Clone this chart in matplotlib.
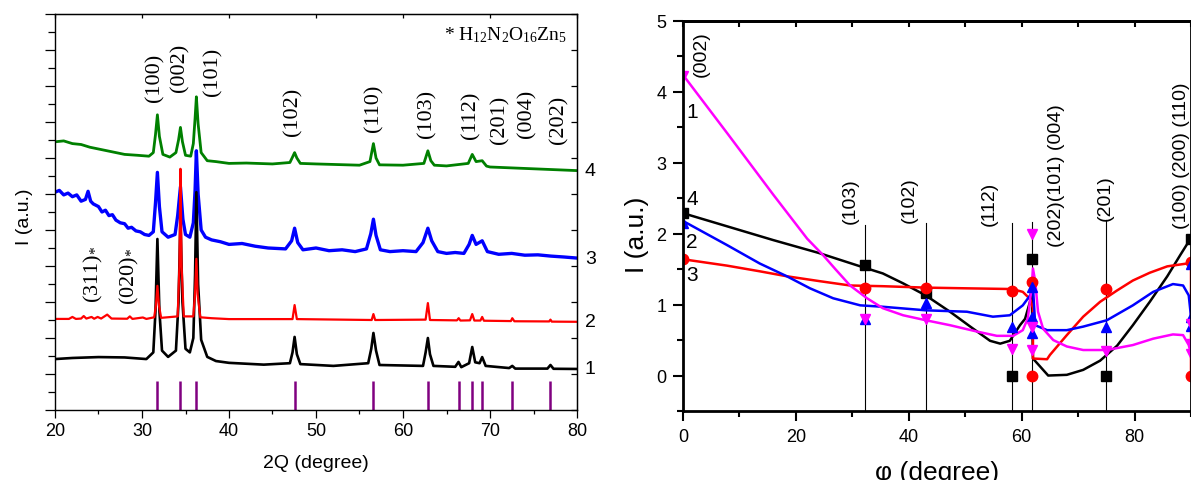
import matplotlib
matplotlib.use('Agg')
import matplotlib.pyplot as plt
from matplotlib.ticker import MultipleLocator

plt.rcParams['font.family'] = ['Liberation Sans', 'DejaVu Sans']
plt.rcParams['mathtext.fontset'] = 'custom'
plt.rcParams['mathtext.rm'] = 'Liberation Serif'
plt.rcParams['mathtext.it'] = 'Liberation Serif:italic'

# ---- XRD patterns (2theta, intensity offset per sample) ----
tt_1 = [20.0, 22.0, 25.0, 28.0, 30.5, 31.3, 31.55, 31.77, 32.0, 32.3, 33.0, 33.9, 34.2, 34.42, 34.65,
        35.0, 35.5, 35.9, 36.1, 36.25, 36.45, 36.8, 37.5, 38.5, 40.0, 44.0, 47.0, 47.3, 47.54, 47.8,
        48.2, 52.0, 56.0, 56.35, 56.6, 56.9, 57.3, 62.3, 62.6, 62.86, 63.1, 63.5, 66.0, 66.38, 66.7,
        67.6, 67.96, 68.3, 68.8, 69.1, 69.5, 72.2, 72.56, 72.9, 76.6, 76.95, 77.3, 80.0]
int_1 = [2.83, 2.89, 2.94, 2.92, 2.83, 3.2, 5.5, 9.5, 5.5, 3.3, 2.95, 3.3, 6.0, 10.6, 6.0,
         3.4, 3.2, 4.0, 7.5, 12.1, 7.0, 3.9, 2.95, 2.72, 2.62, 2.52, 2.6, 3.2, 4.06, 3.1,
         2.55, 2.45, 2.6, 3.4, 4.28, 3.3, 2.5, 2.45, 3.2, 4.0, 3.1, 2.45, 2.4, 2.67, 2.38,
         2.6, 3.5, 2.65, 2.6, 2.94, 2.45, 2.33, 2.45, 2.3, 2.3, 2.5, 2.29, 2.28]

tt_2 = [20.0, 21.6, 22.0, 22.4, 23.0, 23.3, 23.6, 24.2, 24.5, 24.9, 25.3, 26.0, 26.5, 28.3, 28.6,
        28.9, 30.1, 30.5, 31.4, 31.6, 31.77, 31.95, 32.2, 34.1, 34.3, 34.42, 34.55, 34.8, 35.9, 36.1,
        36.25, 36.4, 36.7, 38.0, 40.0, 47.3, 47.54, 47.8, 56.4, 56.6, 56.8, 62.6, 62.86, 63.1, 66.2,
        66.4, 66.6, 67.7, 67.96, 68.2, 68.9, 69.1, 69.3, 72.4, 72.56, 72.8, 76.8, 76.95, 77.1, 80.0]
int_2 = [5.06, 5.06, 5.17, 5.06, 5.08, 5.22, 5.08, 5.17, 5.07, 5.17, 5.08, 5.3, 5.08, 5.07, 5.2,
         5.06, 5.14, 5.06, 5.15, 5.8, 6.9, 5.8, 5.12, 5.2, 8.0, 13.4, 8.0, 5.2, 5.2, 6.5,
         8.4, 6.4, 5.15, 5.1, 5.05, 5.05, 5.83, 5.05, 5.0, 5.33, 5.0, 5.02, 5.94, 5.0, 4.98,
         5.1, 4.97, 4.98, 5.33, 4.97, 4.97, 5.17, 4.96, 4.94, 5.1, 4.93, 4.92, 5.02, 4.91, 4.9]

tt_3 = [20.0, 20.5, 21.0, 21.5, 22.0, 22.5, 23.0, 23.5, 23.8, 24.1, 24.4, 25.0, 25.4, 25.8, 26.2,
        26.6, 27.0, 27.5, 28.0, 28.4, 28.8, 29.3, 29.8, 30.3, 30.8, 31.3, 31.55, 31.77, 32.0, 32.3,
        33.0, 33.8, 34.1, 34.42, 34.7, 35.0, 35.5, 35.9, 36.1, 36.25, 36.45, 36.8, 37.3, 38.0, 39.0,
        40.0, 41.5, 43.0, 44.5, 46.5, 47.2, 47.54, 47.9, 48.5, 50.0, 51.5, 53.0, 54.5, 55.8, 56.3,
        56.6, 56.9, 57.4, 58.5, 60.0, 61.5, 62.3, 62.86, 63.3, 64.0, 65.0, 66.0, 67.0, 67.6, 67.96,
        68.4, 69.1, 69.7, 71.0, 72.5, 74.0, 75.5, 77.0, 78.5, 80.0]
int_3 = [12.1, 12.2, 11.95, 12.05, 11.85, 11.95, 11.6, 11.7, 12.15, 11.6, 11.45, 11.3, 11.0, 11.1, 10.8,
         10.85, 10.55, 10.4, 10.35, 10.1, 10.15, 9.95, 9.9, 9.75, 9.7, 9.9, 11.5, 13.2, 11.3, 9.9,
         9.6, 9.75, 10.8, 12.4, 10.6, 9.75, 9.6, 10.4, 12.2, 14.4, 12.0, 10.0, 9.6, 9.45, 9.35,
         9.2, 9.25, 9.1, 9.0, 8.95, 9.4, 10.1, 9.3, 8.9, 9.0, 8.85, 8.9, 8.8, 8.95, 9.8,
         10.6, 9.7, 8.9, 8.8, 8.85, 8.8, 9.3, 10.1, 9.4, 8.8, 8.7, 8.75, 8.7, 9.2, 9.7,
         9.2, 9.4, 8.8, 8.65, 8.7, 8.6, 8.62, 8.55, 8.5, 8.44]

tt_4 = [20.0, 21.0, 22.0, 23.0, 24.0, 25.0, 26.5, 28.0, 29.5, 30.8, 31.3, 31.55, 31.77, 32.0, 32.4,
        33.2, 33.9, 34.2, 34.42, 34.65, 35.0, 35.6, 35.9, 36.1, 36.25, 36.45, 36.8, 37.5, 38.5, 40.0,
        42.0, 45.0, 47.0, 47.3, 47.54, 47.8, 48.2, 50.0, 55.0, 56.2, 56.6, 56.9, 57.3, 60.0, 62.4,
        62.86, 63.2, 63.6, 65.0, 67.5, 67.96, 68.4, 69.1, 69.6, 70.0, 75.0, 80.0]
int_4 = [14.9, 14.95, 14.8, 14.75, 14.6, 14.5, 14.35, 14.2, 14.15, 14.1, 14.3, 15.3, 16.4, 15.2, 14.2,
         14.05, 14.3, 15.0, 15.7, 14.9, 14.15, 14.1, 14.8, 16.2, 17.4, 15.9, 14.3, 13.85, 13.8, 13.7,
         13.72, 13.67, 13.75, 14.05, 14.3, 14.0, 13.7, 13.67, 13.6, 13.8, 14.8, 14.0, 13.62, 13.6, 13.7,
         14.4, 13.85, 13.6, 13.56, 13.7, 14.2, 13.8, 13.85, 13.55, 13.5, 13.4, 13.3]

# reference ZnO reflections
ref_tt = [31.77, 34.42, 36.25, 47.54, 56.60, 62.86, 66.38, 67.96, 69.10, 72.56, 76.95]
ref_height = 1.6

hkl_labels = ['(100)', '(002)', '(101)', '(102)', '(110)', '(103)', '(112)', '(201)', '(004)', '(202)']
hkl_x = [31.5, 34.35, 38.1, 47.3, 56.6, 62.7, 67.8, 71.1, 74.2, 77.9]
hkl_y = [18.5, 19.05, 18.86, 16.6, 16.8, 16.5, 16.4, 16.2, 16.5, 16.2]

star_labels = ['(311)$_{*}$', '(020)$_{*}$']
star_x = [24.45, 28.6]
star_y = [7.6, 7.5]

# ---- texture curves (phi, relative intensity) ----
phi_1 = [0, 8, 16, 22, 24.8, 27, 29.6, 32.6, 35.4, 39.0, 43.0, 47.3, 52.1, 55.6, 58.5, 60.2, 61.1,
         61.8, 62.0, 62.4, 62.9, 63.8, 65.6, 68.0, 70.9, 75.1, 79.7, 83.3, 86.8, 88.6, 89.6, 90]
I_1 = [4.24, 3.4, 2.55, 1.93, 1.70, 1.5, 1.27, 1.09, 0.95, 0.85, 0.78, 0.71, 0.62, 0.56, 0.56, 0.64, 0.81,
       1.27, 1.51, 1.33, 0.90, 0.66, 0.50, 0.41, 0.36, 0.36, 0.43, 0.52, 0.58, 0.57, 0.43, 0.3]

phi_2 = [0, 7.8, 13.6, 18.4, 22.5, 26.6, 31.4, 35.4, 43.0, 50.3, 54.9, 57.9, 60.2, 61.5, 62.0,
         62.4, 64.5, 68.0, 70.9, 75.1, 79.7, 83.3, 86.8, 88.6, 89.6, 90]
I_2 = [2.18, 1.84, 1.58, 1.40, 1.23, 1.09, 0.99, 0.97, 0.92, 0.90, 0.83, 0.85, 0.99, 1.13, 1.25,
       0.71, 0.64, 0.64, 0.69, 0.78, 0.99, 1.18, 1.29, 1.27, 1.13, 0.83]

phi_3 = [0, 7.8, 13.6, 18.4, 24.3, 29.6, 35.4, 43.0, 50.3, 58.3, 60.2, 61.1, 61.6, 62.0, 62.0,
         64.5, 65.0, 68.0, 70.9, 73.9, 76.9, 79.7, 82.7, 85.8, 89.3, 90, 90]
I_3 = [1.64, 1.55, 1.47, 1.40, 1.33, 1.27, 1.26, 1.24, 1.23, 1.22, 1.18, 1.11, 1.06, 0.95, 0.24,
       0.23, 0.29, 0.57, 0.83, 1.04, 1.2, 1.34, 1.45, 1.54, 1.58, 1.6, 0.0]

phi_4 = [0, 8, 16, 24, 31.4, 35.4, 39.0, 43.0, 47.3, 50.9, 54.4, 56.2, 57.9, 59.7, 60.6, 61.8,
         62.0, 64.7, 68.0, 70.9, 73.9, 76.9, 79.7, 82.7, 85.8, 88.1, 89.6, 90]
I_4 = [2.29, 2.1, 1.91, 1.73, 1.54, 1.44, 1.30, 1.13, 0.90, 0.69, 0.49, 0.45, 0.49, 0.71, 0.80, 1.13,
       0.24, 0.0, 0.01, 0.08, 0.21, 0.42, 0.71, 1.04, 1.40, 1.70, 1.89, 1.93]

# measured points
pt_phi_1 = [0, 32.2, 43.0, 58.3, 61.9, 61.9, 61.9, 75.0, 90, 90, 90]
pt_I_1 = [4.22, 0.8, 0.80, 0.38, 2.0, 0.69, 0.36, 0.34, 0.72, 0.45, 0.3]
pt_phi_2 = [0, 32.2, 43.0, 58.3, 61.9, 61.9, 61.9, 75.0, 90, 90, 90]
pt_I_2 = [2.15, 0.8, 1.02, 0.68, 1.25, 0.83, 0.60, 0.69, 1.58, 0.83, 0.70]
pt_phi_3 = [0, 32.2, 43.0, 58.3, 61.9, 61.9, 75.0, 90, 90]
pt_I_3 = [1.64, 1.23, 1.24, 1.19, 1.32, 0.0, 1.22, 1.6, 0.0]
pt_phi_4 = [0, 32.2, 43.0, 58.3, 61.9, 75.0, 90]
pt_I_4 = [2.29, 1.56, 1.17, 0.0, 1.64, 0.0, 1.93]

plane_phi = [32.2, 43.0, 58.2, 61.9, 75.0, 90.0]
plane_top = [2.12, 2.15, 2.15, 2.17, 2.2, 2.12]
plane_labels = ['(103)', '(102)', '(112)', '(202)(101) (004)', '(201)', '(100) (200) (110)', '(002)']
plane_lx = [29.6, 40.0, 54.2, 66.1, 74.8, 88.4, 3.3]
plane_ly = [2.15, 2.17, 2.12, 1.82, 2.2, 2.08, 4.22]

fig = plt.figure(figsize=(11.91, 4.81), dpi=100)

# ---------------- left: XRD patterns ----------------
ax1 = fig.add_axes([55 / 1191, 70 / 481, 522 / 1191, 396 / 481])
ax1.plot(tt_4, int_4, color='#008000', lw=2.0)
ax1.plot(tt_3, int_3, color='#0000ff', lw=2.4)
ax1.plot(tt_1, int_1, color='black', lw=1.9)
ax1.plot(tt_2, int_2, color='#ff0000', lw=1.6)
ax1.vlines(ref_tt, 0, ref_height, color='#800080', lw=1.8)

for s, x, y in zip(hkl_labels, hkl_x, hkl_y):
    ax1.text(x, y, s, rotation=90, ha='center', va='center', fontsize=16, family='Liberation Serif')
for s, x, y in zip(star_labels, star_x, star_y):
    ax1.text(x, y, s, rotation=90, ha='center', va='center', fontsize=16, family='Liberation Serif')
ax1.text(78.8, 20.9, r'* H$_{12}$N$_2$O$_{16}$Zn$_5$', ha='right', va='center', fontsize=14,
         family='Liberation Serif')

for s, y in zip(['4', '3', '2', '1'], [13.3, 8.44, 4.9, 2.28]):
    ax1.text(80.9, y, s, ha='left', va='center', fontsize=14, clip_on=False)

ax1.set_xlim(20, 80)
ax1.set_ylim(0, 22)
ax1.xaxis.set_major_locator(MultipleLocator(10))
ax1.xaxis.set_minor_locator(MultipleLocator(5))
ax1.yaxis.set_major_locator(MultipleLocator(2))
ax1.yaxis.set_minor_locator(MultipleLocator(1))
ax1.tick_params(axis='x', which='major', direction='out', length=6, width=0.9, labelsize=13, pad=3)
ax1.tick_params(axis='x', which='minor', direction='out', length=3, width=0.9)
ax1.tick_params(axis='y', which='major', direction='out', length=7, width=0.9, labelleft=False)
ax1.tick_params(axis='y', which='minor', direction='out', length=5, width=0.9)
for sp in ax1.spines.values():
    sp.set_linewidth(1.0)
top1 = ax1.secondary_xaxis('top')
top1.xaxis.set_major_locator(MultipleLocator(10))
top1.tick_params(direction='in', length=3, width=0.9, labeltop=False)
right1 = ax1.secondary_yaxis('right')
right1.yaxis.set_major_locator(MultipleLocator(2))
right1.tick_params(direction='in', length=4, width=0.9, labelright=False)
ax1.set_xlabel('2Q (degree)', fontsize=14)
ax1.xaxis.set_label_coords(0.5, -0.11)
ax1.set_ylabel('I (a.u.)', fontsize=14)
ax1.yaxis.set_label_coords(-0.043, 0.49)

# ---------------- right: intensity vs tilt angle ----------------
ax2 = fig.add_axes([683 / 1191, 69 / 481, 508 / 1191, 390 / 481])
for x, top in zip(plane_phi, plane_top):
    ax2.plot([x, x], [-0.5, top], color='black', lw=0.8)
ax2.plot(phi_4, I_4, color='black', lw=1.8)
ax2.plot(phi_3, I_3, color='#ff0000', lw=1.8)
ax2.plot(phi_2, I_2, color='#0000ff', lw=1.8)
ax2.plot(phi_1, I_1, color='#ff00ff', lw=1.8)
ax2.plot(pt_phi_4, pt_I_4, 's', color='black', ms=7)
ax2.plot(pt_phi_3, pt_I_3, 'o', color='#ff0000', ms=7.5)
ax2.plot(pt_phi_2, pt_I_2, '^', color='#0000ff', ms=7.5)
ax2.plot(pt_phi_1, pt_I_1, 'v', color='#ff00ff', ms=7.5)

for s, x, y in zip(plane_labels, plane_lx, plane_ly):
    ax2.text(x, y, s, rotation=90, ha='center', va='bottom', fontsize=14)
for s, y in zip(['1', '4', '2', '3'], [3.73, 2.5, 1.89, 1.43]):
    ax2.text(0.6, y, s, ha='left', va='center', fontsize=15)

ax2.set_xlim(0, 90)
ax2.set_ylim(-0.5, 5)
ax2.xaxis.set_major_locator(MultipleLocator(20))
ax2.xaxis.set_minor_locator(MultipleLocator(10))
ax2.yaxis.set_major_locator(MultipleLocator(1))
ax2.yaxis.set_minor_locator(MultipleLocator(0.5))
ax2.tick_params(axis='both', which='major', direction='out', length=7, width=1.5, labelsize=13, pad=5)
ax2.tick_params(axis='both', which='minor', direction='out', length=4, width=1.5)
for sp in ax2.spines.values():
    sp.set_linewidth(2.0)
top2 = ax2.secondary_xaxis('top')
top2.xaxis.set_major_locator(MultipleLocator(10))
top2.tick_params(direction='in', length=4, width=1.5, labeltop=False)
top2.spines['top'].set_linewidth(2.0)
ax2.set_xlabel('φ (degree)', fontsize=19)
ax2.xaxis.set_label_coords(0.5, -0.125)
ax2.set_ylabel('I (a.u.)', fontsize=19)
ax2.yaxis.set_label_coords(-0.067, 0.454)

fig.savefig('out.png', dpi=100)
